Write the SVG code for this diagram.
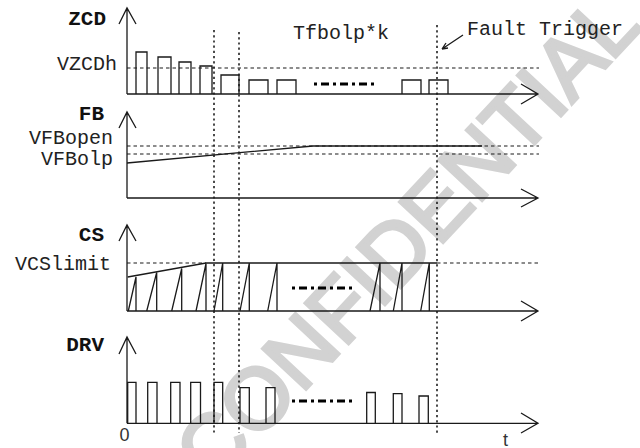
<svg xmlns="http://www.w3.org/2000/svg" width="640" height="448" viewBox="0 0 640 448">
<style>
.ln{fill:none;stroke:#1a1a1a;stroke-width:1.3}
.dot{fill:none;stroke:#111;stroke-width:1.5;stroke-dasharray:2.2 3}
.dsh{fill:none;stroke:#1a1a1a;stroke-width:1.2;stroke-dasharray:3.5 3}
.dd{fill:none;stroke:#000;stroke-width:3;stroke-dasharray:3 4 8 4}
.lab{font-family:"Liberation Mono","Courier New",monospace;font-size:20px;fill:#222}
.bl{font-family:"Liberation Mono","Courier New",monospace;font-size:21px;font-weight:bold;fill:#111}
.sn{font-family:"Liberation Sans",Arial,sans-serif;font-size:18px;fill:#333}
.wm{font-family:"Liberation Sans",Arial,sans-serif;font-size:86px;fill:#d2d2d2;stroke:#d2d2d2;stroke-width:3.5}
</style>
<text class="wm" x="405" y="268" text-anchor="middle" transform="rotate(-47 405 236)">CONFIDENTIAL</text>

<g id="connectors">
<line class="dot" x1="214" y1="30" x2="214" y2="433"/>
<line class="dot" x1="239" y1="32" x2="239" y2="433"/>
<line class="dot" x1="437" y1="25" x2="437" y2="433"/>
<path class="ln" d="M463 35 L442 49 M442 49 L446 43 M442 49 L448 48"/>
</g>

<g id="zcd">
<text class="bl" x="106" y="25" text-anchor="end">ZCD</text>
<text class="lab" x="117" y="70" text-anchor="end">VZCDh</text>
<path class="ln" d="M127 94 V8 M119 24 L127 8 L136 24 M127 94 H538 M521 84 L538 94 L521 104"/>
<line class="dsh" x1="127" y1="68" x2="539" y2="68"/>
<path class="ln" d="M136 94 V52 H147 V94 M158 94 V57 H171 V94 M179 94 V62 H191 V94 M200 94 V66 H212 V94 M221 94 V75 H239 V94 M249 94 V80 H268 V94 M277 94 V80 H296 V94 M402 94 V80 H421 V94 M429 94 V80 H448 V94"/>
<line class="dd" x1="314" y1="84" x2="377" y2="84"/>
<text class="lab" x="293" y="39">Tfbolp*k</text>
<text class="lab" x="467" y="35">Fault Trigger</text>
</g>

<g id="fb">
<text class="bl" x="104" y="120" text-anchor="end">FB</text>
<text class="lab" x="113" y="144" text-anchor="end">VFBopen</text>
<text class="lab" x="113" y="165" text-anchor="end">VFBolp</text>
<path class="ln" d="M127 198 V112 M119 128 L127 112 L136 128 M127 198 H538 M521 189 L538 198 L521 207"/>
<line class="dsh" x1="127" y1="146" x2="539" y2="146"/>
<line class="dsh" x1="127" y1="154" x2="539" y2="154"/>
<path class="ln" d="M127 163 L313 146 H482"/>
</g>

<g id="cs">
<text class="bl" x="104" y="241" text-anchor="end">CS</text>
<text class="lab" x="111" y="270" text-anchor="end">VCSlimit</text>
<path class="ln" d="M127 311 V225 M119 241 L127 225 L136 241 M127 311 H538 M521 301 L538 311 L521 321"/>
<line class="dsh" x1="127" y1="263" x2="206" y2="263"/>
<line class="dsh" x1="437" y1="263" x2="539" y2="263"/>
<path class="ln" d="M127.7 277 L206 263 H437"/>
<path class="ln" d="M128.3 311 L136 277 V311 M146.7 311 L156.7 272.5 V311 M171.7 311 L181.7 268.5 V311 M196 311 L206 263.5 V311 M214 311 L222.7 263 V311 M240 311 L249.3 263 V311 M267.7 311 L277 263 V311 M370 311 L380 263 V311 M393.3 311 L402 263 V311 M420.7 311 L429.3 263 V311"/>
<line class="dd" x1="292" y1="288" x2="353" y2="288"/>
</g>

<g id="drv">
<text class="bl" x="104" y="351" text-anchor="end">DRV</text>
<path class="ln" d="M127 423.3 V337 M119 354 L127 337 L136 354 M127 423.3 H538 M521 413 L538 423.3 L521 433"/>
<path class="ln" d="M127.7 423.3 V382.3 H136 V423.3 M147.7 423.3 V382.3 H157 V423.3 M170.7 423.3 V382.3 H180 V423.3 M190.7 423.3 V382.3 H200.5 V423.3 M214 423.3 V382.3 H222.7 V423.3 M240 423.3 V387.7 H249.3 V423.3 M266 423.3 V387.7 H275 V423.3 M366.7 423.3 V392.5 H375.3 V423.3 M393.3 423.3 V393.7 H402 V423.3 M419 423.3 V396 H428.3 V423.3"/>
<line class="dd" x1="292" y1="401" x2="353" y2="401"/>
<text class="sn" x="119.5" y="441">0</text>
<text class="sn" x="503" y="446">t</text>
</g>
</svg>
